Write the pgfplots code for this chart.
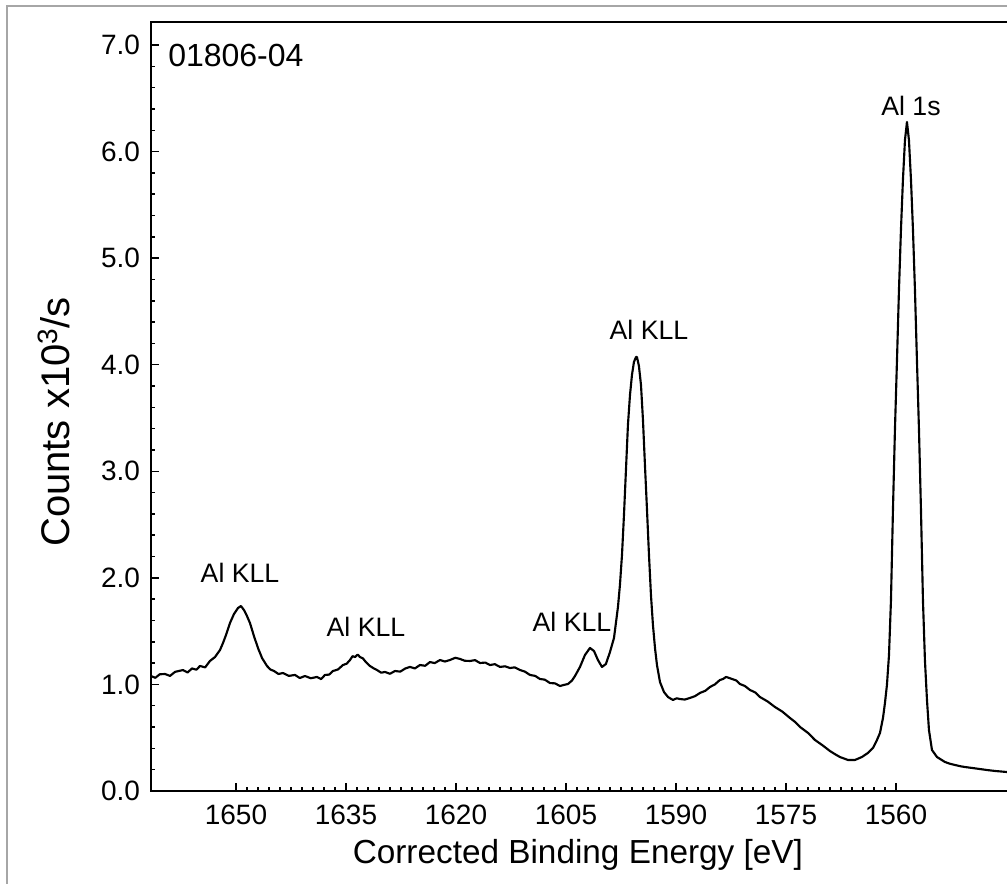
\documentclass[border=0pt]{standalone}
\usepackage{fontspec}
\setmainfont{Liberation Sans}
\usepackage{pgfplots}
\pgfplotsset{compat=1.18}
\definecolor{framegray}{RGB}{166,166,166}
\pgfplotstableread{
E y
1661.59 1.079
1661.00 1.062
1660.40 1.095
1659.68 1.098
1659.00 1.080
1658.30 1.118
1657.23 1.135
1656.60 1.112
1656.00 1.150
1655.40 1.138
1654.91 1.173
1654.20 1.160
1653.55 1.220
1652.86 1.257
1652.18 1.323
1651.77 1.389
1651.36 1.464
1650.82 1.576
1650.27 1.661
1649.73 1.717
1649.32 1.736
1648.91 1.698
1648.50 1.642
1648.09 1.576
1647.55 1.454
1647.00 1.342
1646.45 1.248
1645.77 1.173
1645.30 1.140
1644.82 1.126
1644.20 1.098
1643.59 1.107
1642.80 1.080
1641.95 1.089
1641.30 1.060
1640.59 1.079
1639.80 1.058
1638.95 1.070
1638.40 1.050
1637.86 1.089
1637.30 1.092
1636.77 1.126
1636.10 1.140
1635.41 1.182
1634.90 1.195
1634.45 1.229
1634.10 1.265
1633.77 1.257
1633.40 1.280
1633.09 1.257
1632.70 1.245
1632.41 1.220
1631.73 1.173
1631.20 1.150
1630.77 1.135
1630.20 1.110
1629.68 1.117
1629.00 1.100
1628.32 1.126
1627.60 1.120
1626.90 1.150
1626.27 1.164
1625.60 1.150
1624.91 1.182
1624.20 1.175
1623.55 1.210
1622.90 1.200
1622.18 1.229
1621.50 1.215
1620.82 1.229
1620.10 1.250
1619.45 1.239
1618.80 1.222
1618.09 1.220
1617.40 1.228
1616.73 1.201
1616.00 1.205
1615.36 1.182
1614.70 1.190
1614.00 1.164
1613.30 1.170
1612.64 1.154
1612.00 1.160
1611.27 1.135
1610.60 1.120
1609.91 1.089
1609.20 1.080
1608.55 1.051
1607.90 1.045
1607.18 1.013
1606.50 1.010
1605.82 0.985
1605.30 0.995
1604.73 1.004
1604.20 1.035
1603.77 1.079
1603.09 1.164
1602.41 1.276
1601.73 1.342
1601.18 1.314
1600.64 1.229
1600.09 1.164
1599.55 1.192
1599.00 1.304
1598.45 1.436
1597.91 1.727
1597.64 1.933
1597.36 2.215
1597.09 2.590
1596.82 3.012
1596.55 3.434
1596.27 3.716
1596.00 3.904
1595.73 4.026
1595.45 4.072
1595.32 4.072
1595.05 3.988
1594.77 3.810
1594.50 3.481
1594.23 3.059
1593.95 2.637
1593.68 2.215
1593.41 1.839
1593.14 1.558
1592.86 1.342
1592.59 1.182
1592.18 1.023
1591.64 0.929
1591.09 0.882
1590.41 0.854
1589.90 0.870
1589.45 0.863
1588.80 0.858
1588.09 0.873
1587.40 0.890
1586.73 0.920
1586.00 0.940
1585.36 0.976
1584.70 1.000
1584.00 1.042
1583.60 1.050
1583.18 1.070
1582.80 1.062
1582.36 1.051
1581.80 1.038
1581.27 1.004
1580.60 0.985
1579.91 0.948
1579.20 0.925
1578.55 0.882
1577.50 0.840
1576.50 0.788
1575.50 0.745
1574.45 0.685
1573.80 0.650
1573.09 0.601
1572.00 0.545
1571.05 0.479
1570.00 0.428
1569.00 0.375
1568.30 0.345
1567.64 0.319
1566.55 0.291
1565.59 0.291
1564.64 0.319
1563.82 0.357
1563.14 0.403
1562.59 0.479
1562.18 0.544
1561.77 0.685
1561.50 0.826
1561.23 0.995
1560.95 1.276
1560.68 1.792
1560.41 2.637
1560.14 3.387
1559.86 4.044
1559.59 4.701
1559.32 5.264
1559.05 5.733
1558.77 6.109
1558.50 6.278
1558.23 6.109
1557.95 5.733
1557.68 5.264
1557.41 4.701
1557.14 4.044
1556.86 3.387
1556.59 2.637
1556.32 1.792
1556.05 1.229
1555.77 0.854
1555.50 0.572
1555.09 0.385
1554.41 0.319
1553.32 0.272
1552.60 0.255
1551.95 0.244
1551.20 0.232
1550.59 0.225
1549.50 0.215
1548.55 0.206
1547.50 0.196
1546.50 0.188
1544.86 0.178
}\spectrum
\begin{document}
\begin{tikzpicture}
\useasboundingbox (0pt,0pt) rectangle (755.25pt,663pt);
\clip (0pt,0pt) rectangle (755.25pt,663pt);
\fill[white] (0pt,0pt) rectangle (755.25pt,663pt);
\draw[line width=1.5pt, framegray] (5.25pt,-30pt) rectangle (790pt,658.5pt);
\begin{axis}[
  at={(113.25pt,69.75pt)}, anchor=south west,
  scale only axis, width=644.25pt, height=576.75pt,
  x dir=reverse,
  xmin=1544.45, xmax=1661.59, ymin=0, ymax=7.216,
  xtick={1560,1575,1590,1605,1620,1635,1650},
  ytick={0,1,2,3,4,5,6,7},
  minor x tick num=9, minor y tick num=4,
  xtick pos=left, ytick pos=left,
  tick align=inside,
  major tick length=6pt, minor tick length=3pt,
  axis line style={line width=1.3pt},
  every tick/.style={line width=1.1pt, black},
  /pgf/number format/assume math mode=true,
  xticklabel style={/pgf/number format/1000 sep=, inner sep=0pt, anchor=base, yshift=-25pt, font=\fontsize{21}{24}\selectfont},
  yticklabel style={/pgf/number format/fixed, /pgf/number format/precision=1, /pgf/number format/fixed zerofill, inner sep=0pt, xshift=-8pt, font=\fontsize{21}{24}\selectfont},
  xlabel={Corrected Binding Energy [eV]},
  ylabel={Counts x10\textsuperscript{3}/s},
  xlabel style={at={(axis description cs:0.497,-0.0832)}, anchor=center, font=\fontsize{25}{29}\selectfont},
  ylabel style={at={(axis description cs:-0.1130,0.48)}, anchor=center, font=\fontsize{30}{34}\selectfont},
  clip=false,
]
\addplot[black, line width=1.6pt, line join=round] table[x=E, y=y] {\spectrum};
\node[anchor=west, inner sep=0pt, font=\fontsize{24}{28}\selectfont] at (axis cs:1659.27,6.906) {01806-04};
\node[font=\fontsize{20}{23}\selectfont] at (axis cs:1557.95,6.428) {Al 1s};
\node[font=\fontsize{20}{23}\selectfont] at (axis cs:1593.68,4.326) {Al KLL};
\node[font=\fontsize{20}{23}\selectfont] at (axis cs:1649.45,2.046) {Al KLL};
\node[font=\fontsize{20}{23}\selectfont] at (axis cs:1632.27,1.539) {Al KLL};
\node[font=\fontsize{20}{23}\selectfont] at (axis cs:1604.18,1.586) {Al KLL};
\end{axis}
\end{tikzpicture}
\end{document}
